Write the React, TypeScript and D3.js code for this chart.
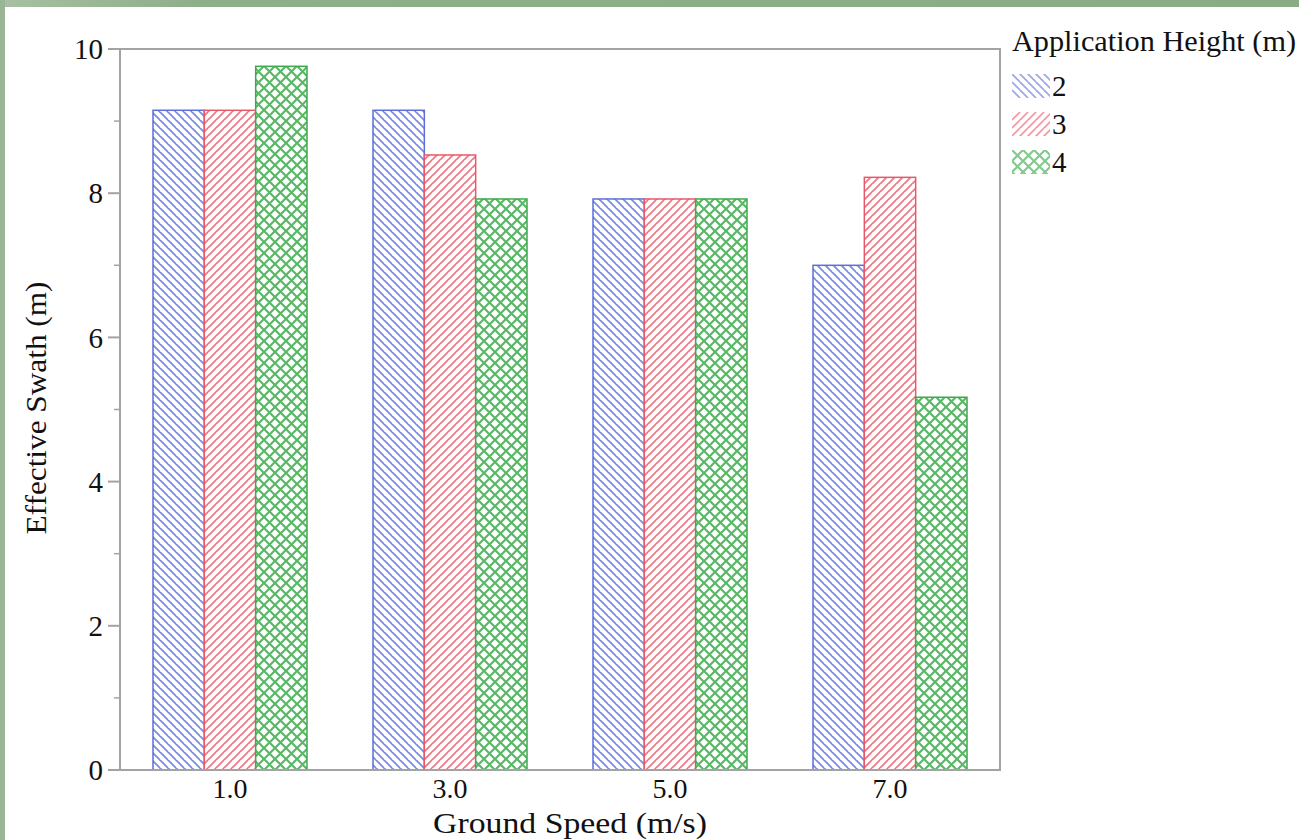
import React from "react";
import * as d3 from "d3";

// Effective swath by ground speed and application height
const speeds = ["1.0", "3.0", "5.0", "7.0"];
const heights = ["2", "3", "4"];
const swath2 = [9.15, 9.15, 7.92, 7.0];
const swath3 = [9.15, 8.53, 7.92, 8.22];
const swath4 = [9.76, 7.92, 7.92, 5.17];
const yTicks = [0, 2, 4, 6, 8, 10];
const yMinorTicks = [1, 3, 5, 7, 9];

const seriesValues = [swath2, swath3, swath4];
const seriesColors = ["#5b6fd8", "#e6596a", "#3daa4c"];

const W = 1299;
const H = 840;
const margin = { left: 120, right: 299, top: 49, bottom: 70 };
const FONT = "'Liberation Serif', 'Times New Roman', serif";

export default function App() {
  const x = d3
    .scaleBand<string>()
    .domain(speeds)
    .range([margin.left, W - margin.right])
    .paddingInner(0.3)
    .paddingOuter(0.15);
  const inner = d3.scaleBand<string>().domain(heights).range([0, x.bandwidth()]);
  const y = d3.scaleLinear().domain([0, 10]).range([H - margin.bottom, margin.top]);

  const x0 = margin.left;
  const x1 = W - margin.right;
  const y0 = y(0);
  const y1 = y(10);
  const axisColor = "#a3a3a3";

  return (
    <div style={{ position: "absolute", left: 0, top: 0 }}>
      <svg width={W} height={H} style={{ display: "block" }}>
        <defs>
          <linearGradient id="frameTop" x1="0" x2="1" y1="0" y2="0">
            <stop offset="0" stopColor="#a8bfa3" />
            <stop offset="0.15" stopColor="#8fae8a" />
            <stop offset="1" stopColor="#8bab86" />
          </linearGradient>
          <pattern id="hatch2" patternUnits="userSpaceOnUse" width="8" height="8">
            <rect width="8" height="8" fill="#fff" />
            <path d="M-1,-1 L9,9 M-4,4 L0,8 M4,-4 L12,4" stroke={seriesColors[0]} strokeWidth="1.8" strokeOpacity="0.8" />
          </pattern>
          <pattern id="hatch3" patternUnits="userSpaceOnUse" width="8" height="8">
            <rect width="8" height="8" fill="#fff" />
            <path d="M-1,9 L9,-1 M-4,4 L0,0 M4,12 L12,4" stroke={seriesColors[1]} strokeWidth="1.8" strokeOpacity="0.8" />
          </pattern>
          <pattern id="hatch4" patternUnits="userSpaceOnUse" width="11" height="11">
            <rect width="11" height="11" fill="#fff" />
            <path
              d="M-1,-1 L12,12 M-6.5,4.5 L6.5,17.5 M4.5,-6.5 L17.5,6.5 M-1,12 L12,-1 M-6.5,6.5 L6.5,-6.5 M4.5,17.5 L17.5,4.5"
              stroke={seriesColors[2]}
              strokeWidth="2.2"
              strokeOpacity="0.85"
            />
          </pattern>
        </defs>

        <rect width={W} height={H} fill="#fff" />
        <rect x={0} y={0} width={W} height={7} fill="url(#frameTop)" />
        <rect x={0} y={0} width={5} height={H} fill="#9ab595" />

        {/* bars */}
        {seriesValues.map((vals, si) => (
          <g key={heights[si]}>
            {vals.map((v, i) => {
              const bx = (x(speeds[i]) ?? 0) + (inner(heights[si]) ?? 0);
              return (
                <rect
                  key={speeds[i]}
                  x={bx}
                  y={y(v)}
                  width={inner.bandwidth()}
                  height={y0 - y(v)}
                  fill={`url(#hatch${heights[si]})`}
                  stroke={seriesColors[si]}
                  strokeWidth={1.5}
                />
              );
            })}
          </g>
        ))}

        {/* frame */}
        <rect x={x0} y={y1} width={x1 - x0} height={y0 - y1} fill="none" stroke={axisColor} strokeWidth={2} />

        {/* y axis ticks */}
        {yTicks.map((t) => (
          <g key={t}>
            <line x1={x0 - 12} x2={x0} y1={y(t)} y2={y(t)} stroke={axisColor} strokeWidth={2} />
            <text
              x={x0 - 17}
              y={y(t)}
              dy="0.35em"
              textAnchor="end"
              fontFamily={FONT}
              fontSize={29}
              fill="#111"
            >
              {t}
            </text>
          </g>
        ))}
        {yMinorTicks.map((t) => (
          <line key={t} x1={x0 - 6} x2={x0} y1={y(t)} y2={y(t)} stroke={axisColor} strokeWidth={1.5} />
        ))}

        {/* x labels */}
        {speeds.map((s) => (
          <text
            key={s}
            x={(x(s) ?? 0) + x.bandwidth() / 2}
            y={y0 + 28}
            textAnchor="middle"
            fontFamily={FONT}
            fontSize={28}
            fill="#111"
          >
            {s}
          </text>
        ))}

        <text
          x={570}
          y={833}
          textAnchor="middle"
          fontFamily={FONT}
          fontSize={30}
          textLength={274}
          lengthAdjust="spacingAndGlyphs"
          fill="#111"
        >
          Ground Speed (m/s)
        </text>
        <text
          transform={`translate(46, 408) rotate(-90)`}
          textAnchor="middle"
          fontFamily={FONT}
          fontSize={30}
          textLength={253}
          lengthAdjust="spacingAndGlyphs"
          fill="#111"
        >
          Effective Swath (m)
        </text>

        {/* legend */}
        <text
          x={1012}
          y={51}
          fontFamily={FONT}
          fontSize={29}
          textLength={284}
          lengthAdjust="spacingAndGlyphs"
          fill="#111"
        >
          Application Height (m)
        </text>
        {heights.map((h, i) => (
          <g key={h} transform={`translate(1012, ${74 + i * 38})`}>
            <rect width={38} height={24} fill={`url(#hatch${h})`} opacity={0.75} />
            <text x={40} y={22} fontFamily={FONT} fontSize={29} fill="#111">
              {h}
            </text>
          </g>
        ))}
      </svg>
    </div>
  );
}
